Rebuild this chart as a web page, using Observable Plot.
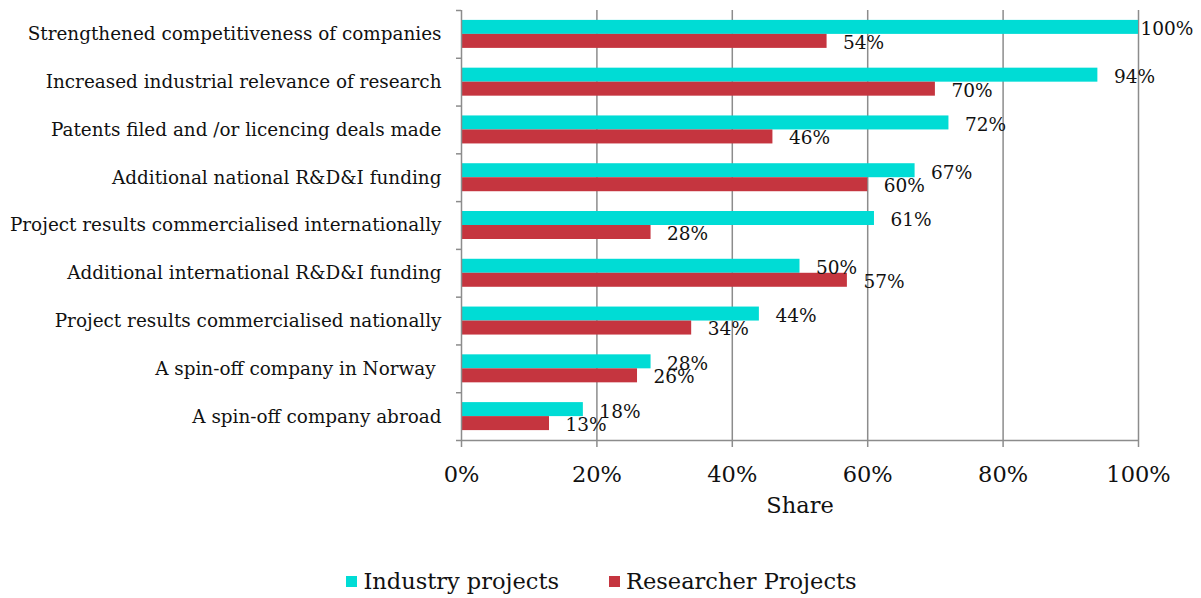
<!DOCTYPE html>
<html>
<head>
<meta charset="utf-8">
<script src="https://cdn.jsdelivr.net/npm/d3@7"></script>
<script src="https://cdn.jsdelivr.net/npm/@observablehq/plot@0.6"></script>
<style>
  html, body { margin: 0; padding: 0; background: #fff; }
  #chart svg { display: block; }
  .legend { display: flex; justify-content: center; align-items: center; gap: 50px; height: 40px; padding-top: 16px;
            font-family: "DejaVu Serif", serif; font-size: 22.5px; color: #111; padding-left: 2px; }
  .legend span.sw { display: inline-block; width: 11px; height: 11px; margin-right: 6px; }
  .legend .item { display: flex; align-items: center; }
</style>
</head>
<body>
<div id="chart"></div>
<script>
const categories = [
  "Strengthened competitiveness of companies",
  "Increased industrial relevance of research",
  "Patents filed and /or licencing deals made",
  "Additional national R&D&I funding",
  "Project results commercialised internationally",
  "Additional international R&D&I funding",
  "Project results commercialised nationally",
  "A spin-off company in Norway ",
  "A spin-off company abroad"
];
const industryValues = [100, 94, 72, 67, 61, 50, 44, 28, 18];
const researcherValues = [54, 70, 46, 60, 28, 57, 34, 26, 13];
const seriesNames = ["Industry projects", "Researcher Projects"];
const seriesColors = ["#00DCD5", "#C5353F"];
const xTicks = [0, 20, 40, 60, 80, 100];
const xLabel = "Share";

const rows = categories.flatMap((c, i) => [
  {category: c, series: seriesNames[0], value: industryValues[i]},
  {category: c, series: seriesNames[1], value: researcherValues[i]}
]);

const W = 1201, H = 545, mT = 10, mB = 105, mL = 461, mR = 63;
const step = (H - mT - mB) / categories.length;
const barH = 14;
const outer = (step - 2 * barH) / 2;
const font = "DejaVu Serif";
const gray = "#8c8c8c";

const ind = rows.filter(d => d.series === seriesNames[0]);
const res = rows.filter(d => d.series === seriesNames[1]);
const pct = d => d.value + "%";

function labels(data, dy) {
  return [
    Plot.text(data.filter(d => d.value < 100), {x: "value", y: "category", text: pct, dx: 16, dy, textAnchor: "start", fontSize: 18.5, fontFamily: font, fill: "#111"}),
    Plot.text(data.filter(d => d.value >= 100), {x: "value", y: "category", text: pct, dx: 2, dy, textAnchor: "start", fontSize: 18.5, fontFamily: font, fill: "#111"})
  ];
}

const chart = Plot.plot({
  width: W, height: H,
  marginTop: mT, marginBottom: mB, marginLeft: mL, marginRight: mR,
  style: {background: "#fff", overflow: "visible"},
  x: {domain: [0, 100], axis: null},
  y: {domain: categories, type: "band", padding: 0, round: false, axis: null},
  marks: [
    Plot.gridX(xTicks.filter(t => t > 0), {stroke: gray, strokeOpacity: 1, strokeWidth: 1.5}),
    Plot.barX(ind, {x: "value", y: "category", fill: seriesColors[0], insetTop: outer, insetBottom: step / 2}),
    Plot.barX(res, {x: "value", y: "category", fill: seriesColors[1], insetTop: step / 2, insetBottom: outer}),
    Plot.ruleX([0], {stroke: gray, strokeWidth: 1.5}),
    Plot.ruleY([categories[categories.length - 1]], {y: d => d, x1: 0, x2: 100, dy: step / 2, stroke: gray, strokeWidth: 1.5}),
    Plot.axisY(categories, {tickSize: 5, tickFormat: () => "", dy: -step / 2, stroke: gray, strokeWidth: 1.5, label: null}),
    Plot.axisY([categories[categories.length - 1]], {tickSize: 5, tickFormat: () => "", dy: step / 2, stroke: gray, strokeWidth: 1.5, label: null}),
    Plot.axisY(categories, {tickSize: 0, tickPadding: 20, fontSize: 18.4, fontFamily: font, fill: "#111", label: null}),
    Plot.axisX(xTicks, {tickSize: 7, tickPadding: 19, tickFormat: d => d + "%", fontSize: 22.5, fontFamily: font, stroke: gray, strokeWidth: 1.5, fill: "#111", label: null}),
    Plot.text([xLabel], {frameAnchor: "bottom", dy: 72, fontSize: 22.5, fontFamily: font, fill: "#111"}),
    ...labels(ind, -5),
    ...labels(res, 8.5)
  ]
});
document.getElementById("chart").append(chart);

const legend = document.createElement("div");
legend.className = "legend";
seriesNames.forEach((name, i) => {
  const item = document.createElement("div");
  item.className = "item";
  const sw = document.createElement("span");
  sw.className = "sw";
  sw.style.background = seriesColors[i];
  item.append(sw, document.createTextNode(name));
  legend.append(item);
});
document.getElementById("chart").append(legend);
</script>
</body>
</html>
